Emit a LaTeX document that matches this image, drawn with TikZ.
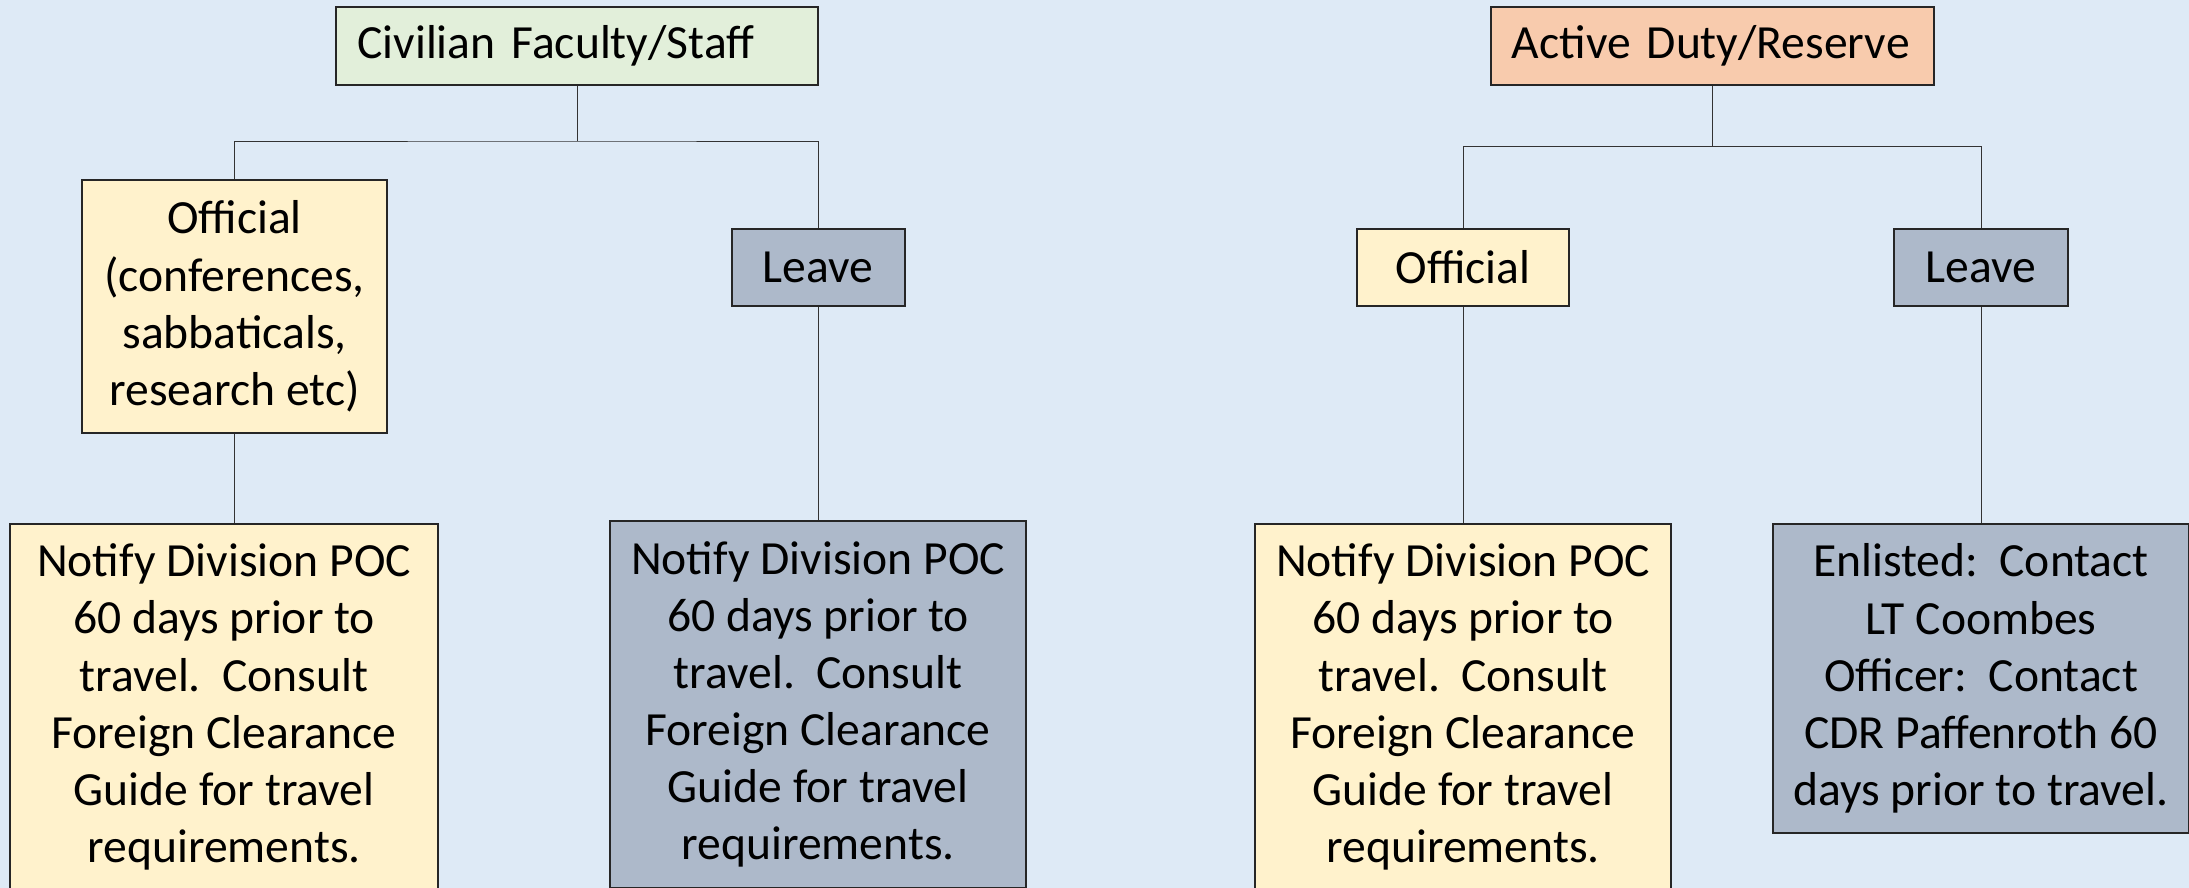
\documentclass[tikz,border=0pt]{standalone}
\usepackage{fontspec}
\setmainfont{Carlito}
\usepackage{tikz}
\usetikzlibrary{positioning}

\definecolor{bgblue}{RGB}{222,234,246}
\definecolor{civgreen}{RGB}{226,239,218}
\definecolor{actpeach}{RGB}{248,203,173}
\definecolor{cream}{RGB}{255,242,204}
\definecolor{slate}{RGB}{173,185,202}

\begin{document}
\begin{tikzpicture}[node distance=2cm,on grid]
       \tikzstyle{every node}=[font=\fontsize{19.4}{23.3}\selectfont]
       \tikzstyle{head}=[draw=black!85, line width=0.8pt, minimum height=1.12cm, inner xsep=0.3cm, align=left]
       \tikzstyle{box}=[draw=black!85, line width=0.8pt, minimum height=1.1cm, inner sep=0pt, align=center]
       \tikzstyle{note}=[box, minimum width=5.96cm, minimum height=5.26cm]
       \tikzstyle{conn}=[draw=black!80, line width=0.4pt]

       \path[use as bounding box, fill=bgblue] (0,0) rectangle (31.36,12.72);
       \clip (0,0) rectangle (31.36,12.72);

       \node[head, fill=civgreen, text width=6.3cm] (civ) at (8.27,12.06) {Civilian Faculty/Staff};
       \node[head, fill=actpeach, text width=5.74cm] (act) [right=16.26cm of civ] {Active Duty/Reserve};

       \node[box, fill=cream, minimum width=4.36cm, minimum height=3.62cm] (civ_off) [below=3.73cm of civ, xshift=-4.91cm]
            {Official\\(conferences,\\sabbaticals,\\research etc)};
       \node[box, fill=slate, minimum width=2.48cm] (civ_lv)  [below=3.17cm of civ, xshift=3.45cm] {Leave};
       \node[box, fill=cream, minimum width=3.04cm] (act_off) [below=3.17cm of act, xshift=-3.57cm] {Official};
       \node[box, fill=slate, minimum width=2.48cm] (act_lv)  [below=3.17cm of act, xshift=3.85cm] {Leave};

       \node[note, fill=cream, minimum width=6.14cm] (civ_off_note) [below=5.74cm of civ_off, xshift=-0.15cm]
            {Notify Division POC\\60 days prior to\\travel.\ \ Consult\\Foreign Clearance\\Guide for travel\\requirements.};
       \node[note, fill=slate] (civ_lv_note) [below=6.26cm of civ_lv]
            {Notify Division POC\\60 days prior to\\travel.\ \ Consult\\Foreign Clearance\\Guide for travel\\requirements.};
       \node[note, fill=cream] (act_off_note) [below=6.30cm of act_off]
            {Notify Division POC\\60 days prior to\\travel.\ \ Consult\\Foreign Clearance\\Guide for travel\\requirements.};
       \node[note, fill=slate, minimum height=4.44cm] (act_lv_note) [below=5.89cm of act_lv]
            {Enlisted:\ \ Contact\\LT Coombes\\Officer:\ \ Contact\\CDR Paffenroth 60\\days prior to travel.};

       \node[coordinate] (civ_j) [below=1.36cm of civ] {};
       \node[coordinate] (act_j) [below=1.44cm of act] {};

       % tree lines
       \draw[conn] (civ) -- (civ_j);
       \draw[conn] (civ_off) |- (civ_j) -| (civ_lv);
       \draw[conn] (civ_off) -- (civ_off |- civ_off_note.north);
       \draw[conn] (civ_lv) -- (civ_lv_note);
       \draw[conn] (act) -- (act_j);
       \draw[conn] (act_off) |- (act_j) -| (act_lv);
       \draw[conn] (act_off) -- (act_off_note);
       \draw[conn] (act_lv) -- (act_lv_note);
     \end{tikzpicture}
\end{document}
